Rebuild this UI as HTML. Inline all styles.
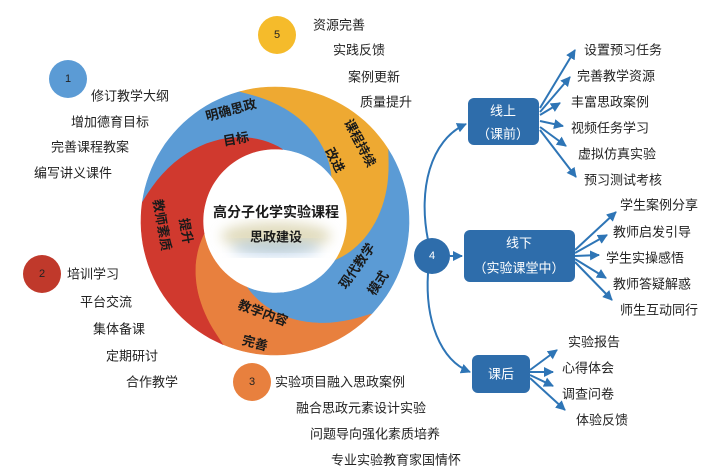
<!DOCTYPE html>
<html><head><meta charset="utf-8">
<style>
html,body{margin:0;padding:0;background:#fff;}
svg{display:block;font-family:"Liberation Sans","Noto Sans CJK SC",sans-serif;}
.t{font-size:13px;fill:#222;dominant-baseline:central;}
.s{font-size:13px;fill:#1a1a1a;font-weight:bold;text-anchor:middle;dominant-baseline:central;}
.w{font-size:13px;fill:#fff;text-anchor:middle;dominant-baseline:central;}
.a{stroke:#2e75b6;stroke-width:2;fill:none;marker-end:url(#ar);}
</style></head>
<body>
<svg id="sv" width="712" height="470" viewBox="0 0 712 470" xmlns="http://www.w3.org/2000/svg">
<defs>
<marker id="ar" viewBox="0 0 10 10" refX="9" refY="5" markerWidth="5" markerHeight="5" orient="auto"><path d="M0,0L10,5L0,10z" fill="#2e75b6"/></marker>
<filter id="bl"><feGaussianBlur stdDeviation="6"/></filter>
</defs>
<g id="ring"></g>
<ellipse cx="276" cy="236" rx="55" ry="14" fill="#c9c08a" opacity="0.55" filter="url(#bl)"/>
<ellipse cx="276" cy="248" rx="45" ry="8" fill="#9fc0e0" opacity="0.6" filter="url(#bl)"/>
<text class="s" x="276" y="212" style="font-size:14px">高分子化学实验课程</text>
<text class="s" x="276" y="237">思政建设</text>

<text class="s" transform="translate(231,110) rotate(-15)">明确思政</text>
<text class="s" transform="translate(236,139) rotate(-10)">目标</text>
<text class="s" transform="translate(360,143) rotate(62)">课程持续</text>
<text class="s" transform="translate(335,160) rotate(62)">改进</text>
<text class="s" transform="translate(357,266) rotate(-55)">现代教学</text>
<text class="s" transform="translate(378,283) rotate(-55)">模式</text>
<text class="s" transform="translate(263,313) rotate(20)">教学内容</text>
<text class="s" transform="translate(255,343) rotate(15)">完善</text>
<text class="s" transform="translate(162,225) rotate(80)">教师素质</text>
<text class="s" transform="translate(186,231) rotate(80)">提升</text>

<circle cx="68" cy="79" r="19" fill="#5b9bd5"/><text class="t" x="68" y="79" text-anchor="middle" style="font-size:11px">1</text>
<circle cx="277" cy="35" r="19" fill="#f5bb2b"/><text class="t" x="277" y="35" text-anchor="middle" style="font-size:11px">5</text>
<circle cx="42" cy="274" r="19" fill="#c0392b"/><text class="t" x="42" y="274" text-anchor="middle" style="font-size:11px">2</text>
<circle cx="252" cy="382" r="19" fill="#e8803e"/><text class="t" x="252" y="382" text-anchor="middle" style="font-size:11px">3</text>

<text class="t" x="91" y="96">修订教学大纲</text>
<text class="t" x="71" y="122">增加德育目标</text>
<text class="t" x="51" y="147">完善课程教案</text>
<text class="t" x="34" y="173">编写讲义课件</text>
<text class="t" x="313" y="25">资源完善</text>
<text class="t" x="333" y="50">实践反馈</text>
<text class="t" x="348" y="77">案例更新</text>
<text class="t" x="360" y="102">质量提升</text>
<text class="t" x="67" y="274">培训学习</text>
<text class="t" x="80" y="302">平台交流</text>
<text class="t" x="93" y="329">集体备课</text>
<text class="t" x="106" y="356">定期研讨</text>
<text class="t" x="126" y="382">合作教学</text>
<text class="t" x="275" y="382">实验项目融入思政案例</text>
<text class="t" x="296" y="408">融合思政元素设计实验</text>
<text class="t" x="310" y="434">问题导向强化素质培养</text>
<text class="t" x="331" y="460">专业实验教育家国情怀</text>

<!-- right side -->
<path class="a" d="M428,240 C418,190 430,140 466,124"/>
<path class="a" d="M428,273 C425,320 440,360 470,372"/>
<path class="a" d="M450,256 L462,256"/>
<circle cx="432" cy="256" r="18" fill="#2e6dab"/><text class="w" x="432" y="256" style="font-size:11px">4</text>
<rect x="468" y="98" width="71" height="47" rx="6" fill="#2e6dab"/>
<text class="w" x="503" y="111">线上</text><text class="w" x="503" y="134">（课前）</text>
<rect x="464" y="230" width="111" height="52" rx="6" fill="#2e6dab"/>
<text class="w" x="519" y="243">线下</text><text class="w" x="519" y="268">（实验课堂中）</text>
<rect x="472" y="355" width="58" height="38" rx="6" fill="#2e6dab"/>
<text class="w" x="501" y="374">课后</text>

<path class="a" d="M540,108 L575,50"/>
<path class="a" d="M540,112 L570,77"/>
<path class="a" d="M540,115 L560,103"/>
<path class="a" d="M540,121 L563,126"/>
<path class="a" d="M540,127 L566,146"/>
<path class="a" d="M540,130 L576,177"/>
<text class="t" x="584" y="50">设置预习任务</text>
<text class="t" x="577" y="76">完善教学资源</text>
<text class="t" x="571" y="102">丰富思政案例</text>
<text class="t" x="571" y="128">视频任务学习</text>
<text class="t" x="578" y="154">虚拟仿真实验</text>
<text class="t" x="584" y="180">预习测试考核</text>

<path class="a" d="M575,250 L616,212"/>
<path class="a" d="M575,253 L607,235"/>
<path class="a" d="M575,256 L599,255"/>
<path class="a" d="M575,259 L606,278"/>
<path class="a" d="M575,262 L612,300"/>
<text class="t" x="620" y="205">学生案例分享</text>
<text class="t" x="613" y="232">教师启发引导</text>
<text class="t" x="606" y="258">学生实操感悟</text>
<text class="t" x="613" y="284">教师答疑解惑</text>
<text class="t" x="620" y="310">师生互动同行</text>

<path class="a" d="M530,370 L557,350"/>
<path class="a" d="M530,372 L553,372"/>
<path class="a" d="M530,375 L553,386"/>
<path class="a" d="M530,378 L565,410"/>
<text class="t" x="568" y="342">实验报告</text>
<text class="t" x="562" y="368">心得体会</text>
<text class="t" x="562" y="394">调查问卷</text>
<text class="t" x="576" y="420">体验反馈</text>
</svg>
<script>
(function(){
var cx=275,cy=221,R=134,r=72;
var B=[[188,276],[255,322],[328,393],[404,473],[473,530],[548,636]];
var cols=["#5b9bd5","#eea932","#5b9bd5","#e8803e","#d0392e"];
function pt(a,rad){a=a*Math.PI/180;return (cx+rad*Math.cos(a)).toFixed(1)+","+(cy+rad*Math.sin(a)).toFixed(1);}
function spiral(b,rev){var p=[],n=24;for(var i=0;i<=n;i++){var t=i/n;var a=b[0]+(b[1]-b[0])*t;var rr=R+(r-R)*Math.pow(t,0.9);p.push(pt(a,rr));}if(rev)p.reverse();return p;}
var g=document.getElementById("ring"),h="";
for(var k=0;k<5;k++){
 var b0=B[k],b1=B[k+1],pts=[];
 for(var a=b0[0];a<b1[0];a+=3)pts.push(pt(a,R));
 pts=pts.concat(spiral(b1,false));
 for(var a2=b1[1];a2>b0[1];a2-=3)pts.push(pt(a2,r));
 pts=pts.concat(spiral(b0,true));
 h+='<path d="M'+pts.join(" L")+' Z" fill="'+cols[k]+'" stroke="'+cols[k]+'" stroke-width="0.6"/>';
}
g.innerHTML=h;
})();
</script>
</body></html>
